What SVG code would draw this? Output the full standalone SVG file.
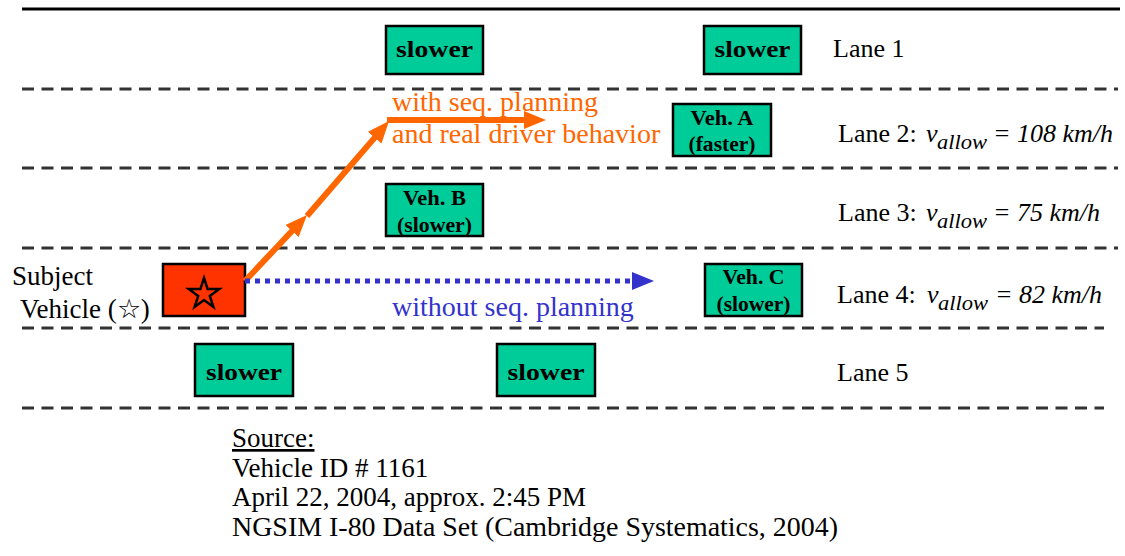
<svg xmlns="http://www.w3.org/2000/svg" width="1125" height="556" viewBox="0 0 1125 556">
  <style>
    .serif { font-family: "Liberation Serif", "DejaVu Serif", serif; }
    .lane-label { font-family: "Liberation Serif", "DejaVu Serif", serif; font-size: 26px; fill: #000; }
    .it { font-style: italic; }
    .sub { font-style: italic; font-size: 20px; }
    .veh { fill: #00CC99; stroke: #000; stroke-width: 2.5; }
    .veh-text { font-family: "Liberation Serif", "DejaVu Serif", serif; font-weight: bold; fill: #000; text-anchor: middle; }
    .big { font-size: 24px; }
    .small { font-size: 20px; }
    .divider { stroke: #333; stroke-width: 3; stroke-dasharray: 12 7.5; fill: none; }
    .source { font-family: "Liberation Serif", "DejaVu Serif", serif; font-size: 27px; fill: #000; }
    .orange { stroke: #FF6600; stroke-width: 6; fill: none; }
  </style>
  <defs>
    <marker id="head-orange" markerUnits="userSpaceOnUse" markerWidth="22" markerHeight="18" refX="10" refY="9" orient="auto">
      <path d="M0,0 L22,9 L0,18 Z" fill="#FF6600"/>
    </marker>
    <marker id="head-blue" markerUnits="userSpaceOnUse" markerWidth="22" markerHeight="18" refX="4" refY="9" orient="auto">
      <path d="M0,0 L22,9 L0,18 Z" fill="#3333CC"/>
    </marker>
  </defs>

  <rect width="1125" height="556" fill="#fff"/>

  <!-- road edges and lane dividers -->
  <g id="road">
    <line x1="22" y1="9" x2="1120" y2="9" stroke="#000" stroke-width="3"/>
    <line class="divider" x1="22" y1="89" x2="1118" y2="89"/>
    <line class="divider" x1="22" y1="168" x2="1118" y2="168"/>
    <line class="divider" x1="22" y1="248" x2="1118" y2="248"/>
    <line class="divider" x1="22" y1="328" x2="1104" y2="328"/>
    <line class="divider" x1="22" y1="408" x2="1104" y2="408"/>
  </g>

  <!-- lane labels -->
  <g id="lane-labels">
    <text class="lane-label" x="833" y="57">Lane 1</text>
    <text class="lane-label" x="838" y="142">Lane 2:<tspan class="it" x="926">v</tspan><tspan class="sub" x="937" dy="7" textLength="50" lengthAdjust="spacingAndGlyphs">allow</tspan><tspan class="it" x="993" dy="-7">= 108 km/h</tspan></text>
    <text class="lane-label" x="838" y="221">Lane 3:<tspan class="it" x="926">v</tspan><tspan class="sub" x="937" dy="7" textLength="50" lengthAdjust="spacingAndGlyphs">allow</tspan><tspan class="it" x="993" dy="-7">= 75 km/h</tspan></text>
    <text class="lane-label" x="837" y="303">Lane 4:<tspan class="it" x="927">v</tspan><tspan class="sub" x="938" dy="7" textLength="50" lengthAdjust="spacingAndGlyphs">allow</tspan><tspan class="it" x="995" dy="-7">= 82 km/h</tspan></text>
    <text class="lane-label" x="837" y="381">Lane 5</text>
  </g>

  <!-- surrounding vehicles -->
  <g id="lane1-slower-a">
    <rect class="veh" x="386" y="26" width="97" height="48"/>
    <text class="veh-text big" x="434.5" y="57" textLength="77" lengthAdjust="spacingAndGlyphs">slower</text>
  </g>
  <g id="lane1-slower-b">
    <rect class="veh" x="704" y="26" width="97" height="48"/>
    <text class="veh-text big" x="752.5" y="57" textLength="76" lengthAdjust="spacingAndGlyphs">slower</text>
  </g>
  <g id="veh-a">
    <rect class="veh" x="673" y="104" width="98" height="52"/>
    <text class="veh-text small" x="722" y="125" textLength="63" lengthAdjust="spacingAndGlyphs">Veh. A</text>
    <text class="veh-text small" x="722" y="151" textLength="67" lengthAdjust="spacingAndGlyphs">(faster)</text>
  </g>
  <g id="veh-b">
    <rect class="veh" x="386" y="184" width="97" height="52"/>
    <text class="veh-text small" x="434.5" y="205" textLength="63" lengthAdjust="spacingAndGlyphs">Veh. B</text>
    <text class="veh-text small" x="434.5" y="232" textLength="75" lengthAdjust="spacingAndGlyphs">(slower)</text>
  </g>
  <g id="veh-c">
    <rect class="veh" x="705" y="264" width="97" height="52"/>
    <text class="veh-text small" x="753.5" y="284" textLength="62" lengthAdjust="spacingAndGlyphs">Veh. C</text>
    <text class="veh-text small" x="753.5" y="311" textLength="74" lengthAdjust="spacingAndGlyphs">(slower)</text>
  </g>
  <g id="lane5-slower-a">
    <rect class="veh" x="195" y="344" width="98" height="52"/>
    <text class="veh-text big" x="244" y="380" textLength="76" lengthAdjust="spacingAndGlyphs">slower</text>
  </g>
  <g id="lane5-slower-b">
    <rect class="veh" x="497" y="344" width="98" height="52"/>
    <text class="veh-text big" x="546" y="380" textLength="77" lengthAdjust="spacingAndGlyphs">slower</text>
  </g>

  <!-- subject vehicle -->
  <g id="subject">
    <rect x="163" y="264" width="82" height="52" fill="#FF3300" stroke="#000" stroke-width="2.5"/>
    <polygon points="204,278 207.6,289.1 219.2,289.1 209.8,295.9 213.4,306.9 204,300.1 194.6,306.9 198.2,295.9 188.8,289.1 200.4,289.1" fill="none" stroke="#000" stroke-width="2.5" stroke-linejoin="miter"/>
    <text class="serif" font-size="27" x="12" y="285">Subject</text>
    <text class="serif" font-size="27" x="20" y="318">Vehicle (☆)</text>
  </g>

  <!-- trajectories -->
  <g id="connectors">
    <path class="orange" d="M245,281 L298.8,223.8" marker-end="url(#head-orange)"/>
    <path class="orange" d="M307,216 L381.2,130.1" marker-end="url(#head-orange)"/>
    <path class="orange" d="M387,120 L534,120" marker-end="url(#head-orange)"/>
    <path d="M245,281 L636,281" stroke="#3333CC" stroke-width="5" stroke-dasharray="5 5" fill="none" marker-end="url(#head-blue)"/>
  </g>

  <!-- trajectory labels -->
  <g id="trajectory-labels">
    <text class="serif" font-size="28" fill="#FF6600" x="392" y="111">with seq. planning</text>
    <text class="serif" font-size="28" fill="#FF6600" x="392" y="143">and real driver behavior</text>
    <text class="serif" font-size="28" fill="#3333CC" x="392" y="316">without seq. planning</text>
  </g>

  <!-- data source -->
  <g id="source">
    <text class="source" x="232" y="447" text-decoration="underline">Source:</text>
    <text class="source" x="232" y="477">Vehicle ID # 1161</text>
    <text class="source" x="232" y="506">April 22, 2004, approx. 2:45 PM</text>
    <text class="source" x="232" y="536" textLength="606" lengthAdjust="spacingAndGlyphs">NGSIM I-80 Data Set (Cambridge Systematics, 2004)</text>
  </g>
</svg>
